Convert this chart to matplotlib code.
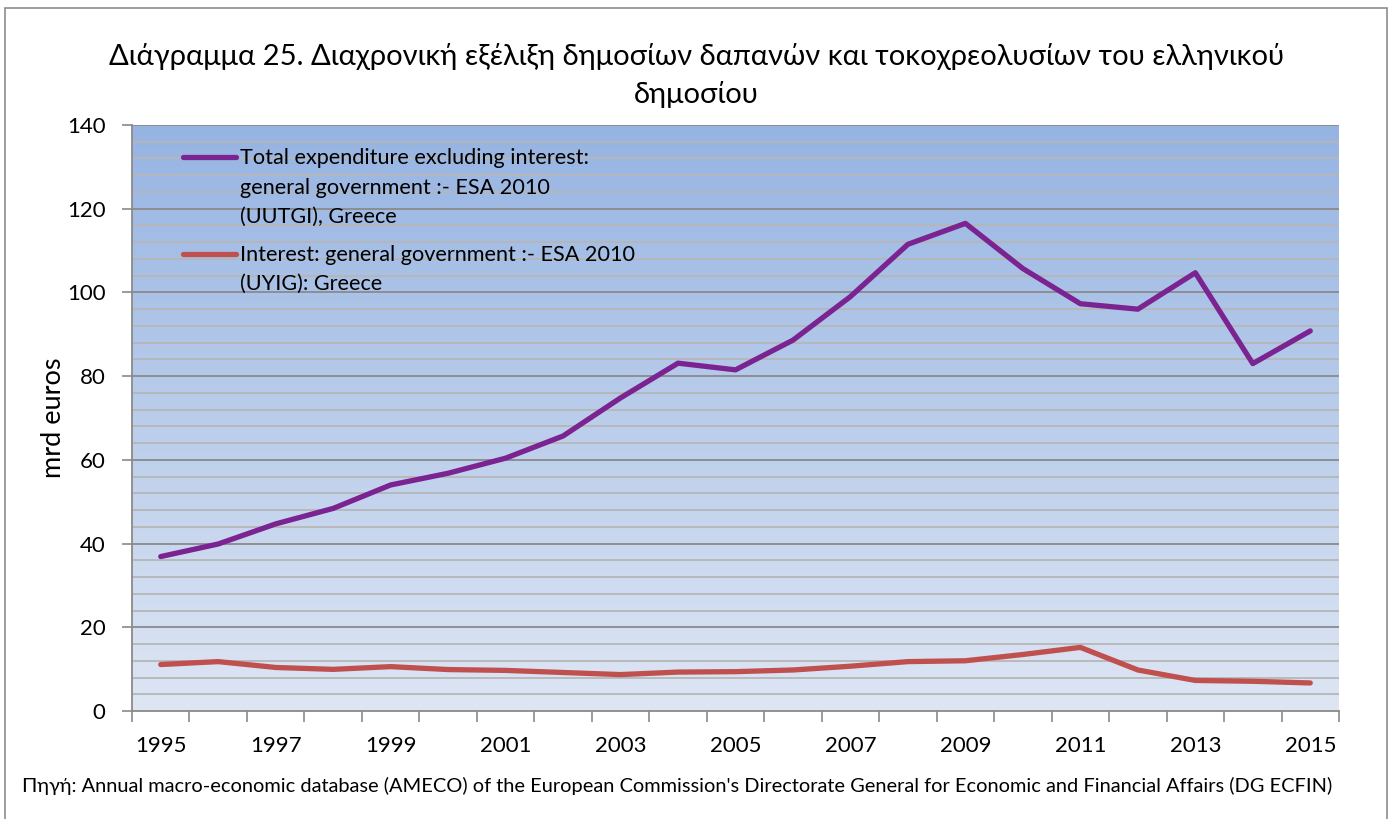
import numpy as np
import matplotlib
matplotlib.use("Agg")
import matplotlib.pyplot as plt
from matplotlib.patches import Rectangle

plt.rcParams['font.family'] = ['Lato', 'Open Sans', 'DejaVu Sans']

years = list(range(1995, 2016))
expenditure = [36.9, 39.9, 44.7, 48.4, 54.0, 56.8, 60.4, 65.7, 74.8, 83.1, 81.5,
               88.6, 99.0, 111.5, 116.5, 105.7, 97.3, 96.0, 104.7, 83.0, 90.8]
interest = [11.1, 11.8, 10.4, 9.95, 10.6, 9.9, 9.7, 9.2, 8.7, 9.3, 9.4,
            9.8, 10.7, 11.8, 12.0, 13.5, 15.2, 9.8, 7.3, 7.1, 6.7]
tick_years = [str(y) for y in years[::2]]

label_exp = ["Total expenditure excluding interest:",
             "general government :- ESA 2010",
             "(UUTGI), Greece"]
label_int = ["Interest: general government :- ESA 2010",
             "(UYIG): Greece"]
title = "Διάγραμμα 25. Διαχρονική εξέλιξη δημοσίων δαπανών και τοκοχρεολυσίων του ελληνικού\nδημοσίου"
ylabel = "mrd euros"
source = ("Πηγή: Annual macro-economic database (AMECO) of the European Commission's "
          "Directorate General for Economic and Financial Affairs (DG ECFIN)")

c_exp = '#7B2391'
c_int = '#C0504D'

W, H = 1393, 819
fig = plt.figure(figsize=(W / 100, H / 100), dpi=100)
ax_l, ax_r, ax_t, ax_b = 132, 1339, 125, 711
ax = fig.add_axes([ax_l / W, 1 - ax_b / H, (ax_r - ax_l) / W, (ax_b - ax_t) / H])

x = np.arange(len(years))
n = len(years)

# gradient background
top = np.array([150, 180, 226]) / 255
bot = np.array([222, 230, 244]) / 255
t = np.linspace(0, 1, 256)[:, None]
grad = (top[None, :] * (1 - t) + bot[None, :] * t)[:, None, :]
ax.imshow(grad, extent=(-0.5, n - 0.5, 0, 140), aspect='auto', zorder=0,
          interpolation='bilinear', origin='upper')

# gridlines
for v in np.arange(4, 140, 4):
    if v % 20 == 0:
        continue
    ax.axhline(v, color='#B6B6B6', lw=1.3, zorder=1)
for v in np.arange(20, 141, 20):
    ax.axhline(v, color='#8A8A8A', lw=1.3, zorder=1)

ax.plot(x, expenditure, color=c_exp, lw=3.8, solid_capstyle='round',
        solid_joinstyle='round', zorder=3)
ax.plot(x, interest, color=c_int, lw=3.8, solid_capstyle='round',
        solid_joinstyle='round', zorder=3)

ax.set_xlim(-0.5, n - 0.5)
ax.set_ylim(0, 140)

ax.set_xticks(np.arange(-0.5, n, 1))
ax.set_xticklabels([])
ax.set_xticks(x[::2], minor=True)
ax.set_xticklabels(tick_years, minor=True)
ax.tick_params(axis='x', which='major', direction='out', length=8, width=1.2,
               color='#8A8A8A')
ax.tick_params(axis='x', which='minor', length=0, pad=18, labelsize=16)
ax.set_yticks(np.arange(0, 141, 20))
ax.tick_params(axis='y', which='major', direction='out', length=7, width=1.2,
               color='#8A8A8A', labelsize=16, pad=12)

for s in ['top', 'right']:
    ax.spines[s].set_visible(False)
for s in ['left', 'bottom']:
    ax.spines[s].set_color('#8A8A8A')
    ax.spines[s].set_linewidth(1.3)

ax.set_ylabel(ylabel, fontsize=19.5)
ax.yaxis.set_label_coords((66 - ax_l) / (ax_r - ax_l), 0.5)

# legend (drawn manually so the handle sits on the first text line)
def ax_y(py):
    return (ax_b - py) / (ax_b - ax_t)

def ax_x(px):
    return (px - ax_l) / (ax_r - ax_l)

legend_rows = [(c_exp, 157, label_exp, [164, 194, 223]),
               (c_int, 254, label_int, [261, 290])]
for col, hy, lines, baselines in legend_rows:
    ax.plot([ax_x(183), ax_x(236)], [ax_y(hy), ax_y(hy)], color=col, lw=3.8,
            solid_capstyle='round', transform=ax.transAxes, zorder=4,
            clip_on=False)
    for line, by in zip(lines, baselines):
        ax.text(ax_x(240), ax_y(by), line, transform=ax.transAxes,
                ha='left', va='baseline', fontsize=15.6, zorder=4)

fig.text(0.5, 1 - 75 / H, title, ha='center', va='center', fontsize=21,
         linespacing=1.5)
fig.text(22 / W, 1 - 786 / H, source, ha='left', va='center', fontsize=14.4)

fig.add_artist(Rectangle((5 / W, -0.05), (1387 - 5) / W, 1.05 - 8 / H,
                         transform=fig.transFigure, fill=False,
                         edgecolor='#8C8C8C', lw=1.2))

fig.savefig("out.png", dpi=100)
